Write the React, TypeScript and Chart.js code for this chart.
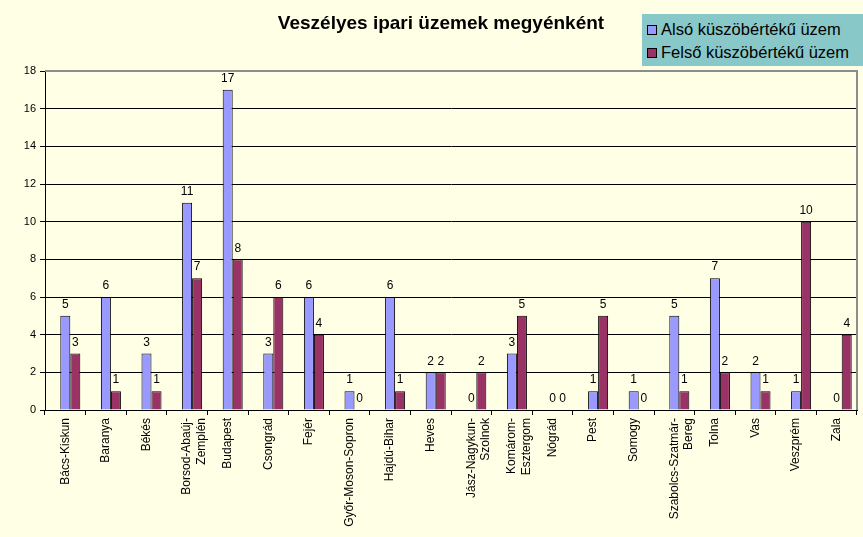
import React, { useEffect, useRef } from "react";
import { Chart, registerables } from "chart.js";

Chart.register(...registerables);

const categories: (string | string[])[] = [
  "Bács-Kiskun",
  "Baranya",
  "Békés",
  ["Borsod-Abaúj-", "Zemplén"],
  "Budapest",
  "Csongrád",
  "Fejér",
  "Győr-Moson-Sopron",
  "Hajdú-Bihar",
  "Heves",
  ["Jász-Nagykun-", "Szolnok"],
  ["Komárom-", "Esztergom"],
  "Nógrád",
  "Pest",
  "Somogy",
  ["Szabolcs-Szatmár-", "Bereg"],
  "Tolna",
  "Vas",
  "Veszprém",
  "Zala",
];

const alsoValues = [5, 6, 3, 11, 17, 3, 6, 1, 6, 2, 0, 3, 0, 1, 1, 5, 7, 2, 1, 0];
const felsoValues = [3, 1, 1, 7, 8, 6, 4, 0, 1, 2, 2, 5, 0, 5, 0, 1, 2, 1, 10, 4];

const seriesNames = ["Alsó küszöbértékű üzem", "Felső küszöbértékű üzem"];
const seriesColors = ["#9999FF", "#993366"];
const titleText = "Veszélyes ipari üzemek megyénként";

const FONT = "'Liberation Sans', Arial, Helvetica, sans-serif";
const BG = "#FFFFE6";

const valueLabels = {
  id: "valueLabels",
  afterDatasetsDraw(chart: any) {
    const ctx = chart.ctx;
    ctx.save();
    ctx.font = `12px ${FONT}`;
    ctx.fillStyle = "#000";
    ctx.textAlign = "center";
    ctx.textBaseline = "bottom";
    chart.data.datasets.forEach((ds: any, di: number) => {
      if (ds.hiddenSpacer) return;
      const meta = chart.getDatasetMeta(di);
      meta.data.forEach((bar: any, i: number) => {
        const v = ds.data[i];
        if (v === null || v === undefined) return;
        ctx.fillText(String(v), bar.x, bar.y - 5);
      });
    });
    ctx.restore();
  },
};

const plotBorder = {
  id: "plotBorder",
  beforeDatasetsDraw(chart: any) {
    const { ctx, chartArea } = chart;
    ctx.save();
    ctx.strokeStyle = "#8C8C8C";
    ctx.lineWidth = 2;
    ctx.beginPath();
    ctx.moveTo(chartArea.left, chartArea.top);
    ctx.lineTo(chartArea.right, chartArea.top);
    ctx.lineTo(chartArea.right, chartArea.bottom);
    ctx.stroke();
    ctx.restore();
  },
};

export default function App() {
  const ref = useRef<HTMLCanvasElement>(null);

  useEffect(() => {
    document.body.style.margin = "0";
    const chart = new Chart(ref.current!, {
      type: "bar",
      data: {
        labels: categories,
        datasets: [
          {
            label: "",
            data: categories.map(() => null),
            backgroundColor: "rgba(0,0,0,0)",
            hiddenSpacer: true,
          } as any,
          {
            label: seriesNames[0],
            data: alsoValues,
            backgroundColor: seriesColors[0],
            borderColor: "#000000",
            borderWidth: 1,
          },
          {
            label: seriesNames[1],
            data: felsoValues,
            backgroundColor: seriesColors[1],
            borderColor: "#000000",
            borderWidth: 1,
          },
        ],
      },
      options: {
        animation: false,
        responsive: false,
        maintainAspectRatio: false,
        datasets: { bar: { categoryPercentage: 0.74, barPercentage: 1 } },
        layout: { padding: { left: 0, right: 6, top: 71, bottom: 0 } },
        plugins: {
          legend: { display: false },
          tooltip: { enabled: false },
          title: { display: false },
        },
        scales: {
          x: {
            offset: true,
            grid: {
              offset: true,
              drawOnChartArea: false,
              drawTicks: true,
              tickLength: 5,
              color: "#000",
            },
            border: { color: "#000", width: 1 },
            ticks: {
              autoSkip: false,
              maxRotation: 90,
              minRotation: 90,
              color: "#000",
              padding: 3,
              font: { family: FONT, size: 12 },
            },
            afterFit: (s: any) => {
              s.height = 127;
            },
          },
          y: {
            min: 0,
            max: 18,
            ticks: {
              stepSize: 2,
              color: "#000",
              padding: 4,
              font: { family: FONT, size: 11 },
            },
            grid: { color: "#000", tickLength: 5 },
            border: { color: "#000", width: 1 },
            afterFit: (s: any) => {
              s.width = 45;
            },
          },
        },
      } as any,
      plugins: [plotBorder, valueLabels],
    });
    return () => chart.destroy();
  }, []);

  return (
    <div
      style={{
        position: "absolute",
        left: 0,
        top: 0,
        width: 863,
        height: 537,
        background: BG,
        fontFamily: FONT,
      }}
    >
      <canvas ref={ref} width={863} height={537} style={{ position: "absolute", left: 0, top: 0 }} />
      <div
        style={{
          position: "absolute",
          left: 241,
          width: 400,
          top: 11,
          textAlign: "center",
          fontSize: 19,
          fontWeight: "bold",
          lineHeight: "24px",
          color: "#000",
        }}
      >
        {titleText}
      </div>
      <div
        style={{
          position: "absolute",
          left: 642,
          top: 14,
          width: 221,
          height: 52,
          background: "#88C8C8",
          boxSizing: "border-box",
          padding: "4px 0 0 5px",
          fontSize: 16.5,
          color: "#000",
        }}
      >
        {seriesNames.map((n, i) => (
          <div key={n} style={{ display: "flex", alignItems: "center", height: 23, whiteSpace: "nowrap" }}>
            <span
              style={{
                display: "inline-block",
                width: 8,
                height: 8,
                background: seriesColors[i],
                border: "1px solid #000",
                marginRight: 4,
              }}
            />
            <span>{n}</span>
          </div>
        ))}
      </div>
    </div>
  );
}
